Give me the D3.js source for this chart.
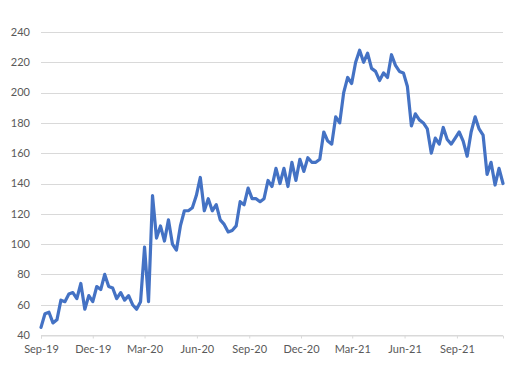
<!DOCTYPE html>
<html>
<head>
<meta charset="utf-8">
<script src="https://cdn.jsdelivr.net/npm/d3@7"></script>
<style>
  body { margin: 0; background: #fff; }
  #chart text { font-family: Lato, "Open Sans", sans-serif; font-size: 11px; fill: #595959; }
</style>
</head>
<body>
<div id="chart"></div>
<script>
'use strict'

// weekly values, starting 1 Sep 2019
const startDate = new Date(2019, 8, 1)
const values = [
  45, 54, 55, 48, 50, 63, 62, 67, 68, 64, 74, 57, 66, 62, 72, 70, 80, 72, 71, 64,
  68, 63, 66, 60, 57, 62, 98, 62, 132, 104, 112, 102, 116, 100, 96, 112, 122, 122, 124, 132,
  144, 122, 130, 122, 126, 116, 113, 108, 109, 112, 128, 126, 137, 130, 130, 128, 130, 142, 138, 150,
  140, 150, 138, 154, 142, 156, 148, 157, 154, 154, 156, 174, 168, 166, 184, 180, 200, 210, 206, 220,
  228, 220, 226, 216, 214, 208, 213, 210, 225, 218, 214, 213, 204, 178, 186, 182, 180, 176, 160, 170,
  166, 177, 169, 166, 170, 174, 168, 158, 174, 184, 176, 172, 146, 154, 139, 150, 140
]
const yTicks = [40, 60, 80, 100, 120, 140, 160, 180, 200, 220, 240]
const xTickDates = [
  new Date(2019, 8, 1), new Date(2019, 11, 1), new Date(2020, 2, 1), new Date(2020, 5, 1),
  new Date(2020, 8, 1), new Date(2020, 11, 1), new Date(2021, 2, 1), new Date(2021, 5, 1),
  new Date(2021, 8, 1)
]

const data = values.map((v, i) => ({ date: d3.timeDay.offset(startDate, i * 7), value: v }))

////////////////////////////////////
//////////// svg setup /////////////
////////////////////////////////////

const svgWidth = 514, svgHeight = 378
const margin = { left: 41, right: 11, top: 32, bottom: 43 }
const width = svgWidth - margin.left - margin.right
const height = svgHeight - margin.top - margin.bottom

const svg = d3.select('#chart')
  .append('svg')
  .attr('width', svgWidth)
  .attr('height', svgHeight)
  .append('g')
  .attr('transform', `translate(${margin.left},${margin.top})`)

////////////////////////////////////
////////////// Scales //////////////
////////////////////////////////////

const x = d3.scaleTime()
  .domain([startDate, data[data.length - 1].date])
  .range([0, width])

const y = d3.scaleLinear()
  .domain([40, 240])
  .range([height, 0])

// gridlines
svg.append('g')
  .selectAll('line')
  .data(yTicks)
  .join('line')
  .attr('x1', 0)
  .attr('x2', width)
  .attr('y1', d => Math.round(y(d)) + 0.5)
  .attr('y2', d => Math.round(y(d)) + 0.5)
  .attr('stroke', '#d9d9d9')
  .attr('stroke-width', 1)

// y labels
svg.append('g')
  .selectAll('text')
  .data(yTicks)
  .join('text')
  .attr('x', -11)
  .attr('y', d => y(d))
  .attr('dy', '0.35em')
  .attr('text-anchor', 'end')
  .text(d => d)

// x axis
const xAxis = svg.append('g')
  .attr('transform', `translate(0,${Math.round(height) + 0.5})`)
  .call(d3.axisBottom(x)
    .tickValues(xTickDates)
    .tickFormat(d3.timeFormat('%b-%y'))
    .tickSize(3)
    .tickPadding(7))

xAxis.select('.domain').attr('stroke', '#d9d9d9')
xAxis.selectAll('.tick line').attr('stroke', '#d9d9d9')
xAxis.selectAll('.tick text')
  .style('font-family', 'Lato, "Open Sans", sans-serif')
  .style('font-size', '11px')
  .attr('fill', '#595959')

// line
const line = d3.line()
  .x(d => x(d.date))
  .y(d => y(d.value))

svg.append('path')
  .datum(data)
  .attr('fill', 'none')
  .attr('stroke', '#4472C4')
  .attr('stroke-width', 3.2)
  .attr('stroke-linejoin', 'round')
  .attr('stroke-linecap', 'round')
  .attr('d', line)
</script>
</body>
</html>
